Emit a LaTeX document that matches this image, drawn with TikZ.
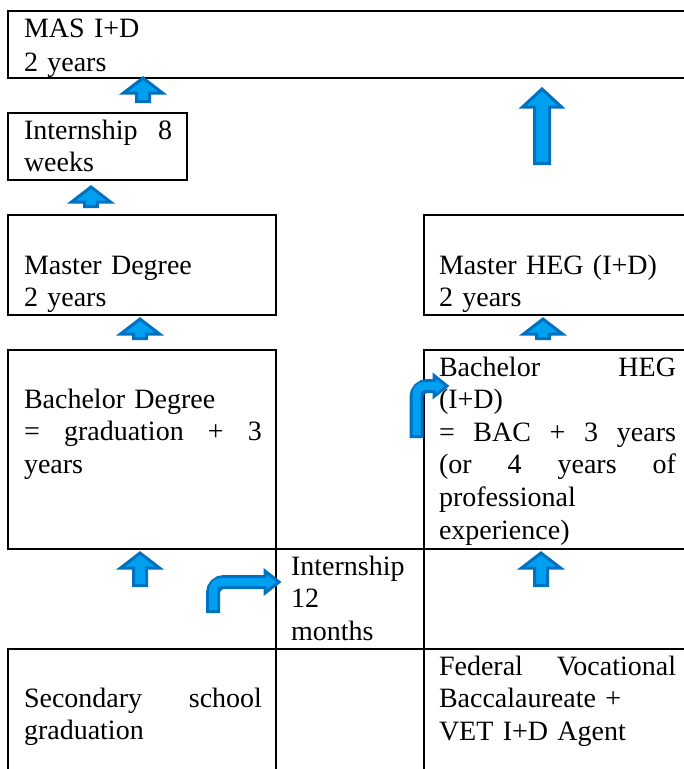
\documentclass[tikz,border=0pt]{standalone}
\usepackage{fontspec}
\setmainfont{Liberation Serif}
\definecolor{arrdark}{RGB}{0,112,192}
\definecolor{arrlight}{RGB}{0,160,240}
\tikzset{
  box/.style={draw=black, line width=2pt},
  txt/.style={anchor=base west, inner sep=0pt, outer sep=0pt, align=left,
              font=\fontsize{28}{32.6}\selectfont},
  blockarrow/.style={draw=arrdark, fill=arrlight, line width=3pt, line join=miter},
  bentdark/.style={draw=arrdark, line width=14pt, rounded corners=11pt, line cap=butt},
  bentlight/.style={draw=arrlight, line width=8pt, rounded corners=8pt, line cap=butt},
}
% x, ytip, ybottom, headhalf, shafthalf, headlen
\newcommand\blockupar[6]{%
  \filldraw[blockarrow] (#1,#2) -- (#1+#4,#2+#6) -- (#1+#5,#2+#6) -- (#1+#5,#3)
    -- (#1-#5,#3) -- (#1-#5,#2+#6) -- (#1-#4,#2+#6) -- cycle;}
\begin{document}
\begin{tikzpicture}[x=1pt,y=-1pt]
\useasboundingbox (0,0) rectangle (684,769);
\clip (0,0) rectangle (684,769);
\fill[white] (0,0) rectangle (684,769);

% boxes
\draw[box] (8,11) rectangle (700,78);
\draw[box] (8,113) rectangle (187,180);
\draw[box] (8,215) rectangle (276,315);
\draw[box] (424,215) rectangle (700,315);
\draw[box] (8,350) rectangle (276,549);
\draw[box] (424,350) rectangle (700,549);
\draw[box] (276,549) -- (424,549);
\draw[box] (276,549) -- (276,780);
\draw[box] (424,549) -- (424,780);
\draw[box] (8,780) -- (8,649) -- (700,649);

% texts
\node[txt, text width=600pt] (mas) at (24,37) {MAS I+D\\[2pt]2 years};
\node[txt, text width=148pt] (int8) at (24,139) {Internship\hfill 8\\weeks};
\node[txt, text width=238pt] (md) at (24,274) {Master Degree\\2 years};
\node[txt, text width=237pt] (mh) at (439,274) {Master HEG (I+D)\\2 years};
\node[txt, text width=238pt] (bd) at (24,408) {Bachelor Degree\\=\hfill graduation\hfill +\hfill 3\\years};
\node[txt, text width=237pt] (bh) at (439,376) {Bachelor\hfill HEG\\(I+D)\\=\hfill BAC\hfill +\hfill 3\hfill years\\(or\hfill 4\hfill years\hfill of\\professional\\experience)};
\node[txt, text width=120pt] (i12) at (291,575) {Internship\\12\\months};
\node[txt, text width=238pt] (ss) at (24,707) {Secondary\hfill school\\graduation};
\node[txt, text width=237pt] (fv) at (439,675) {Federal\hfill Vocational\\Baccalaureate +\\VET I+D Agent};

% block up arrows
\blockupar{143}{78}{101.5}{19.5}{6.5}{15}
\blockupar{91}{187}{206.5}{19.5}{6.5}{15}
\blockupar{140}{319}{338.5}{19.5}{6.5}{15}
\blockupar{543}{319}{338.5}{19.5}{6.5}{15}
\blockupar{140}{553}{585.5}{19.5}{6.5}{15}
\blockupar{541}{553}{585.5}{19.5}{6.5}{15}
\blockupar{542}{89}{163.5}{19.5}{7.5}{18}

% bent arrow 1 (to Internship 12 months)
\draw[bentdark] (213,613) -- (213,582) -- (267,582);
\filldraw[blockarrow] (265,571) -- (279,582) -- (265,593) -- cycle;
\draw[bentlight] (213,610) -- (213,582) -- (268,582);

% bent arrow 2 (to Bachelor HEG)
\draw[bentdark] (416.5,438) -- (416.5,386) -- (436,386);
\filldraw[blockarrow] (434,375.5) -- (447,386) -- (434,396.5) -- cycle;
\draw[bentlight] (416.5,435) -- (416.5,386) -- (437,386);
\end{tikzpicture}
\end{document}
